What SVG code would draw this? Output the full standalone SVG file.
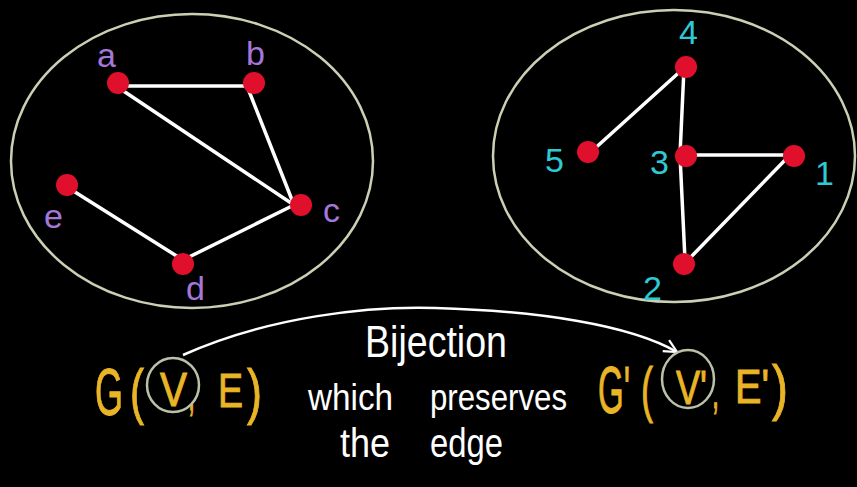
<svg xmlns="http://www.w3.org/2000/svg" width="857" height="487" viewBox="0 0 857 487">
<style>
.set{fill:none;stroke:#c9d1b4;stroke-width:2.5}
.edge{stroke:#ffffff;stroke-width:3.5;stroke-linecap:round;fill:none}
.dot{fill:#e0102c}
.lp{fill:#a577d8;font-family:"Liberation Sans",sans-serif;font-size:34px}
.ln{fill:#2fc9d3;font-family:"Liberation Sans",sans-serif;font-size:34px}
.y{fill:#e9b526;stroke:#e9b526;stroke-width:1;font-family:"Liberation Sans",sans-serif;font-size:48px}
.w{fill:#ffffff;font-family:"Liberation Sans",sans-serif}
.ring{fill:none;stroke:#b9c2a8;stroke-width:2.5}
</style>
<defs>
<marker id="ah" viewBox="0 0 10 10" refX="9" refY="5" markerWidth="16" markerHeight="16" markerUnits="userSpaceOnUse" orient="auto">
<path d="M1,1 L9,5 L1,9" fill="none" stroke="#ffffff" stroke-width="1.4"/>
</marker>
</defs>
<rect width="857" height="487" fill="#000000"/>
<ellipse class="set" cx="192" cy="161" rx="181" ry="147"/>
<ellipse class="set" cx="674" cy="156" rx="181" ry="146"/>
<g id="connectors">
<line class="edge" x1="116" y1="86" x2="247" y2="86"/>
<line class="edge" x1="247" y1="86" x2="294" y2="205"/>
<line class="edge" x1="116" y1="86" x2="294" y2="205"/>
<line class="edge" x1="294" y1="205" x2="183" y2="260"/>
<line class="edge" x1="183" y1="260" x2="67" y2="187"/>
<line class="edge" x1="684" y1="68" x2="592" y2="151"/>
<line class="edge" x1="684" y1="68" x2="680" y2="155"/>
<line class="edge" x1="680" y1="155" x2="685" y2="260"/>
<line class="edge" x1="680" y1="155" x2="790" y2="155"/>
<line class="edge" x1="790" y1="155" x2="688" y2="260"/>
<path d="M183,355 C270,316 370,306 435,308 C540,311 630,325 677,352" fill="none" stroke="#ffffff" stroke-width="2.5" marker-end="url(#ah)"/>
</g>
<g id="node-a"><circle class="dot" cx="118" cy="83" r="11"/><text class="lp" x="97" y="67">a</text></g>
<g id="node-b"><circle class="dot" cx="254" cy="83" r="11"/><text class="lp" x="246" y="65">b</text></g>
<g id="node-c"><circle class="dot" cx="301" cy="205" r="11"/><text class="lp" x="323" y="222">c</text></g>
<g id="node-d"><circle class="dot" cx="183" cy="264" r="11"/><text class="lp" x="186" y="300">d</text></g>
<g id="node-e"><circle class="dot" cx="67" cy="185" r="11"/><text class="lp" x="44" y="228">e</text></g>
<g id="node-4"><circle class="dot" cx="686" cy="67" r="11"/><text class="ln" x="679" y="44">4</text></g>
<g id="node-5"><circle class="dot" cx="588" cy="152" r="11"/><text class="ln" x="545" y="172">5</text></g>
<g id="node-3"><circle class="dot" cx="686" cy="156" r="11"/><text class="ln" x="650" y="174">3</text></g>
<g id="node-1"><circle class="dot" cx="794" cy="156" r="11"/><text class="ln" x="815" y="185">1</text></g>
<g id="node-2"><circle class="dot" cx="684" cy="264" r="11"/><text class="ln" x="643" y="300">2</text></g>
<g id="G">
<text class="y" y="408"><tspan x="95" y="415" font-size="66" textLength="28" lengthAdjust="spacingAndGlyphs">G</tspan><tspan x="130" y="412" font-size="62" textLength="14" lengthAdjust="spacingAndGlyphs">(</tspan><tspan x="160" y="406" textLength="27" lengthAdjust="spacingAndGlyphs">V</tspan><tspan x="188" y="410" textLength="7" lengthAdjust="spacingAndGlyphs">,</tspan><tspan x="218" y="407" textLength="25" lengthAdjust="spacingAndGlyphs">E</tspan><tspan x="247" y="412" font-size="62" textLength="15" lengthAdjust="spacingAndGlyphs">)</tspan></text>
<ellipse class="ring" cx="173" cy="385" rx="26" ry="27"/>
</g>
<g id="Gp">
<text class="y" y="406"><tspan x="598" y="413" font-size="66" textLength="32" lengthAdjust="spacingAndGlyphs">G'</tspan><tspan x="641" y="410" font-size="62" textLength="12" lengthAdjust="spacingAndGlyphs">(</tspan><tspan x="676" y="404" textLength="31" lengthAdjust="spacingAndGlyphs">V'</tspan><tspan x="712" y="408" textLength="7" lengthAdjust="spacingAndGlyphs">,</tspan><tspan x="735" y="403" textLength="34" lengthAdjust="spacingAndGlyphs">E'</tspan><tspan x="772" y="408" font-size="62" textLength="16" lengthAdjust="spacingAndGlyphs">)</tspan></text>
<ellipse class="ring" cx="688" cy="379" rx="26" ry="29"/>
</g>
<g id="label">
<text class="w" font-size="44" x="365" y="357" textLength="142" lengthAdjust="spacingAndGlyphs">Bijection</text>
<text class="w" font-size="36" x="308" y="410" textLength="85" lengthAdjust="spacingAndGlyphs">which</text>
<text class="w" font-size="36" x="430" y="410" textLength="137" lengthAdjust="spacingAndGlyphs">preserves</text>
<text class="w" font-size="40" x="340" y="457" textLength="50" lengthAdjust="spacingAndGlyphs">the</text>
<text class="w" font-size="40" x="430" y="457" textLength="73" lengthAdjust="spacingAndGlyphs">edge</text>
</g>
</svg>
